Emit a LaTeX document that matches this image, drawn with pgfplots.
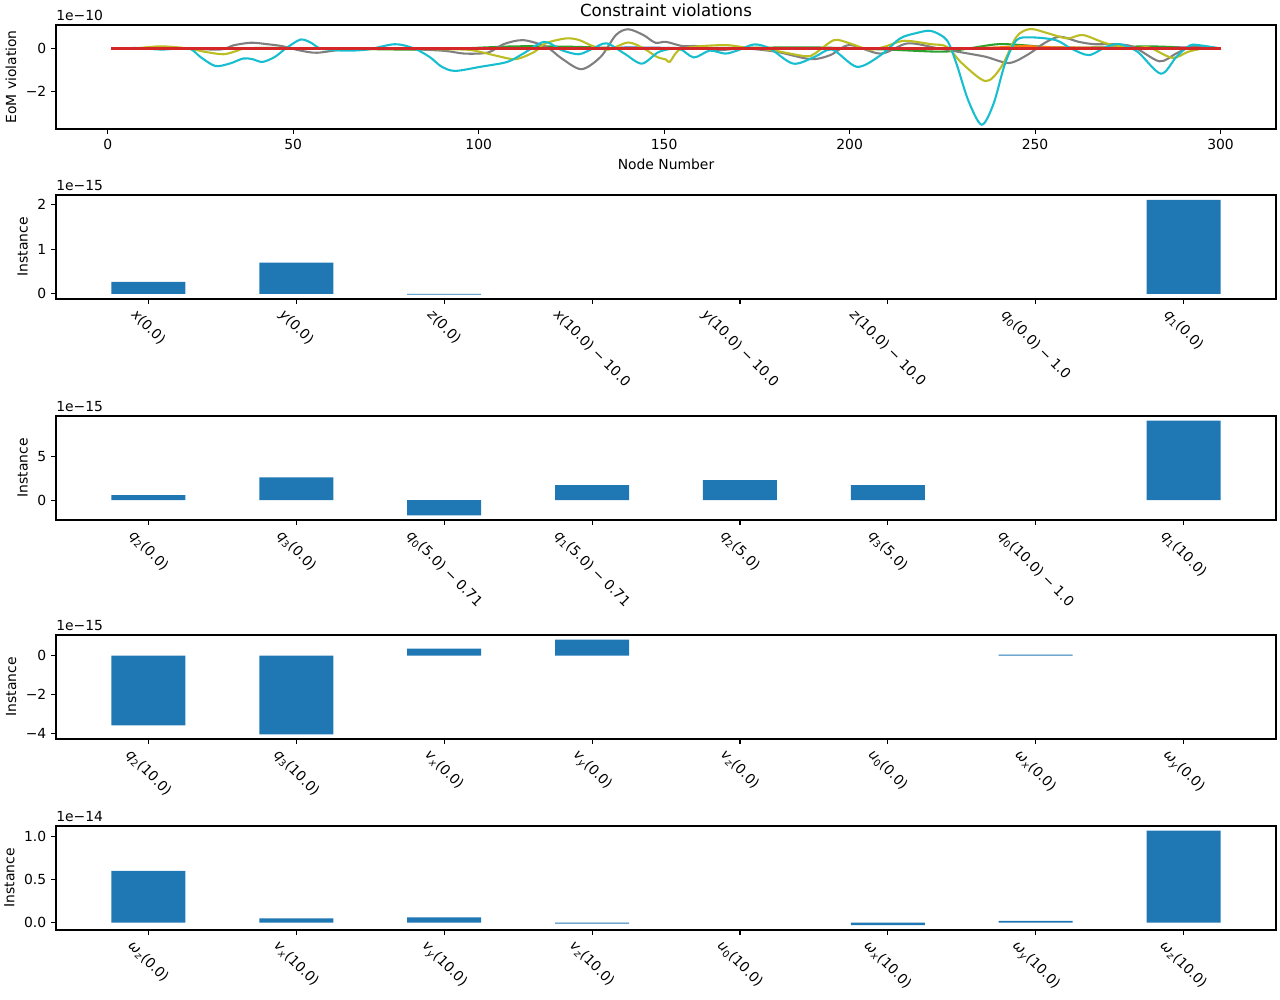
\documentclass[border=0pt]{standalone}
\usepackage{fontspec}
\setmainfont{DejaVu Sans}
\usepackage{graphicx}
\usepackage{pgfplots}
\pgfplotsset{compat=1.18}
\definecolor{tabblue}{HTML}{1F77B4}
\definecolor{taborange}{HTML}{FF7F0E}
\definecolor{tabgreen}{HTML}{2CA02C}
\definecolor{tabred}{HTML}{D62728}
\definecolor{tabpink}{HTML}{E377C2}
\definecolor{tabgray}{HTML}{7F7F7F}
\definecolor{tabolive}{HTML}{BCBD22}
\definecolor{tabcyan}{HTML}{17BECF}
\newcommand{\lab}[1]{\rotatebox{-45}{#1}}
\newcommand{\sv}[2]{\textit{#1}\textsubscript{#2}}
\newcommand{\si}[2]{\textit{#1}\textsubscript{\textit{#2}}}
\tikzset{off/.style={anchor=south west, inner sep=0pt, yshift=3pt, font=\fontsize{10}{12}\selectfont}}
\pgfplotsset{
  base/.style={
    scale only axis, width=878.4pt, height=74.88pt, anchor=south west,
    axis line style={line width=0.8pt},
    tick align=outside, tick pos=left,
    major tick length=3.5pt,
    every tick/.style={black, line width=0.8pt},
    tick label style={font=\fontsize{10}{12}\selectfont},
    label style={font=\fontsize{10}{12}\selectfont},
    /pgf/number format/assume math mode=true,
    clip mode=individual,
  },
  barax/.style={
    base,
    xmin=-0.625, xmax=7.625, xtick={0,...,7},
    xticklabel style={anchor=north, inner sep=1pt, yshift=-2pt},
    ylabel={Instance},
  },
  bars/.style={ybar, bar width=0.5, bar shift=0pt, fill=tabblue, draw=none},
}
\begin{document}
\begin{tikzpicture}
\useasboundingbox (0,0) rectangle (921.6pt,720pt);
% ---------- panel 1 ----------
\begin{axis}[base, at={(40.32pt,627.12pt)},
  xmin=-13.95, xmax=314.95, ymin=-3.77, ymax=1.10,
  xtick={0,50,...,300}, ytick={-2,0}, yticklabels={−2,0},
  xlabel={Node Number}, ylabel={EoM violation},
  title={Constraint violations},
  title style={font=\fontsize{12}{14}\selectfont, yshift=-3.5pt},
  every axis plot/.append style={line width=1.5pt},
]
\addplot[tabgreen, smooth] coordinates {(1,0) (50,0.02) (80,-0.05) (95,0) (110,0.1) (125,0.08) (140,0.02) (170,0.03) (190,0.05) (210,-0.05) (225,-0.15) (232,0) (240,0.2) (247,0.15) (255,0.05) (270,0.05) (280,0.1) (290,0.05) (300,0)};
\addplot[taborange] coordinates {(1,0) (230,0) (240,0.05) (247,0.12) (255,0.05) (300,0)};
\addplot[tabblue] coordinates {(1,0) (135,0) (140,0.05) (150,0.03) (160,0) (300,0)};
\addplot[tabpink] coordinates {(1,0) (285,0) (290,0.05) (295,0) (300,0)};
\addplot[tabgray, smooth] coordinates {(1,0) (20,0) (30.2,-0.05) (34,0.15) (38.6,0.27) (43,0.2) (47,0.11) (52,-0.1) (56.4,-0.2) (63.7,-0.05) (75,0) (90,-0.1) (96.2,-0.24) (102.5,-0.19) (106.7,0.2) (112,0.39) (118.2,0.08) (122.4,-0.47) (127.7,-0.97) (132.9,-0.39) (137,0.63) (140.3,0.9) (144.4,0.63) (147.6,0.27) (150.5,0.31) (155,0.11) (159,0.11) (164,-0.08) (171.7,0) (180.4,-0.16) (189.5,-0.5) (194.8,-0.31) (200,0.16) (208.4,-0.24) (215.7,0.24) (224,0) (230.4,-0.19) (236.7,-0.39) (243,-0.68) (248.2,-0.27) (252.4,0.24) (256.6,0.55) (261.8,0.31) (266,0.2) (271.3,0.2) (276.5,0.08) (283.5,-0.6) (288,-0.24) (292.3,0.08) (300,0)};
\addplot[tabolive, smooth] coordinates {(1,0) (8,0.02) (14.5,0.1) (21.8,0) (26,-0.15) (31.2,-0.27) (35,-0.1) (37.5,0) (50,0.02) (60,-0.03) (80,-0.03) (96,-0.05) (100.4,-0.16) (105,-0.35) (110,-0.5) (115,-0.16) (118,0.24) (123.5,0.47) (127,0.4) (130.8,0.11) (135,-0.05) (140.3,0.28) (144.5,0) (148,-0.39) (150.5,-0.52) (151.5,-0.63) (153.9,-0.08) (158,0.08) (166.5,0.16) (171.7,0.05) (179,-0.08) (188,-0.36) (190.6,-0.24) (195.8,0.39) (200,0.24) (205.2,-0.05) (209.4,0.08) (214.7,0.36) (222,0.2) (226.2,0.08) (230.4,-0.71) (236.7,-1.53) (240.9,-0.86) (245,0.55) (248.7,0.91) (253.5,0.71) (258.7,0.47) (262.9,0.63) (269.2,0.24) (276.5,0) (280.7,0.05) (287,-0.44) (291.2,-0.16) (295.4,0) (300,0)};
\addplot[tabcyan, smooth] coordinates {(1,0) (8,0.02) (14.5,-0.05) (21.8,0) (25,-0.4) (29,-0.82) (33,-0.7) (36.5,-0.47) (39,-0.5) (41.7,-0.63) (45,-0.4) (48,0) (52,0.42) (55,0.25) (57.4,0) (63.7,-0.1) (70,-0.05) (77.4,0.2) (82.6,0) (86.8,-0.4) (90,-0.85) (93.6,-1.05) (100.4,-0.86) (107.7,-0.63) (112,-0.24) (117.7,0.31) (122.4,-0.08) (127,-0.27) (130.8,0) (134.5,0.24) (139.3,-0.24) (144,-0.71) (148.6,-0.16) (153.9,0) (158,-0.42) (162.3,-0.1) (166.5,-0.24) (170,-0.08) (174.3,0.19) (178.5,0) (184.8,-0.71) (190.6,-0.39) (195.3,-0.05) (202,-0.86) (208.4,-0.31) (213.6,0.47) (218,0.72) (222,0.82) (226.2,0.39) (228.8,-0.71) (232,-2.44) (235.6,-3.57) (238.8,-2.59) (241.9,-0.71) (245,0.39) (249,0.52) (255.6,0.39) (259.7,0) (264.5,-0.31) (269.2,0.08) (272.9,0.2) (277.6,-0.15) (283.9,-1.18) (288.1,-0.39) (291.7,0.14) (294.8,0.14) (300,0)};
\addplot[tabred, line width=2.2pt] coordinates {(1,0) (300,0)};
\node[off] at (rel axis cs:0,1) {1e−10};
\end{axis}
% ---------- panel 2 ----------
\begin{axis}[barax, at={(40.32pt,504.72pt)},
  ymin=-0.116, ymax=2.22, ytick={0,1,2}, yticklabels={0,1,2},
  xticklabels={{\lab{\textit{x}(0.0)}},{\lab{\textit{y}(0.0)}},{\lab{\textit{z}(0.0)}},{\lab{\textit{x}(10.0) − 10.0}},{\lab{\textit{y}(10.0) − 10.0}},{\lab{\textit{z}(10.0) − 10.0}},{\lab{\sv{q}{0}(0.0) − 1.0}},{\lab{\sv{q}{1}(0.0)}}},
]
% bars with value 0 (categories 3-6) are not drawn
\addplot[bars] coordinates {(0,0.27) (1,0.70) (2,-0.02) (7,2.11)};
\node[off] at (rel axis cs:0,1) {1e−15};
\end{axis}
% ---------- panel 3 ----------
\begin{axis}[barax, at={(40.32pt,345.6pt)},
  ymin=-2.235, ymax=9.535, ytick={0,5}, yticklabels={0,5},
  xticklabels={{\lab{\sv{q}{2}(0.0)}},{\lab{\sv{q}{3}(0.0)}},{\lab{\sv{q}{0}(5.0) − 0.71}},{\lab{\sv{q}{1}(5.0) − 0.71}},{\lab{\sv{q}{2}(5.0)}},{\lab{\sv{q}{3}(5.0)}},{\lab{\sv{q}{0}(10.0) − 1.0}},{\lab{\sv{q}{1}(10.0)}}},
]
\addplot[bars] coordinates {(0,0.57) (1,2.6) (2,-1.7) (3,1.7) (4,2.27) (5,1.7) (7,9.0)};
\node[off] at (rel axis cs:0,1) {1e−15};
\end{axis}
% ---------- panel 4 ----------
\begin{axis}[barax, at={(40.32pt,187.92pt)},
  ymin=-4.26, ymax=1.06, ytick={-4,-2,0}, yticklabels={−4,−2,0},
  xticklabels={{\lab{\sv{q}{2}(10.0)}},{\lab{\sv{q}{3}(10.0)}},{\lab{\si{v}{x}(0.0)}},{\lab{\si{v}{y}(0.0)}},{\lab{\si{v}{z}(0.0)}},{\lab{\sv{u}{0}(0.0)}},{\lab{\si{ω}{x}(0.0)}},{\lab{\si{ω}{y}(0.0)}}},
]
\addplot[bars] coordinates {(0,-3.56) (1,-4.02) (2,0.36) (3,0.82) (6,0.05)};
\node[off] at (rel axis cs:0,1) {1e−15};
\end{axis}
% ---------- panel 5 ----------
\begin{axis}[barax, at={(40.32pt,50.4pt)},
  ymin=-0.085, ymax=1.12, ytick={0,0.5,1}, yticklabels={0.0,0.5,1.0},
  xticklabels={{\lab{\si{ω}{z}(0.0)}},{\lab{\si{v}{x}(10.0)}},{\lab{\si{v}{y}(10.0)}},{\lab{\si{v}{z}(10.0)}},{\lab{\sv{u}{0}(10.0)}},{\lab{\si{ω}{x}(10.0)}},{\lab{\si{ω}{y}(10.0)}},{\lab{\si{ω}{z}(10.0)}}},
]
\addplot[bars] coordinates {(0,0.60) (1,0.05) (2,0.06) (3,-0.01) (5,-0.03) (6,0.02) (7,1.065)};
\node[off] at (rel axis cs:0,1) {1e−14};
\end{axis}
\end{tikzpicture}
\end{document}
